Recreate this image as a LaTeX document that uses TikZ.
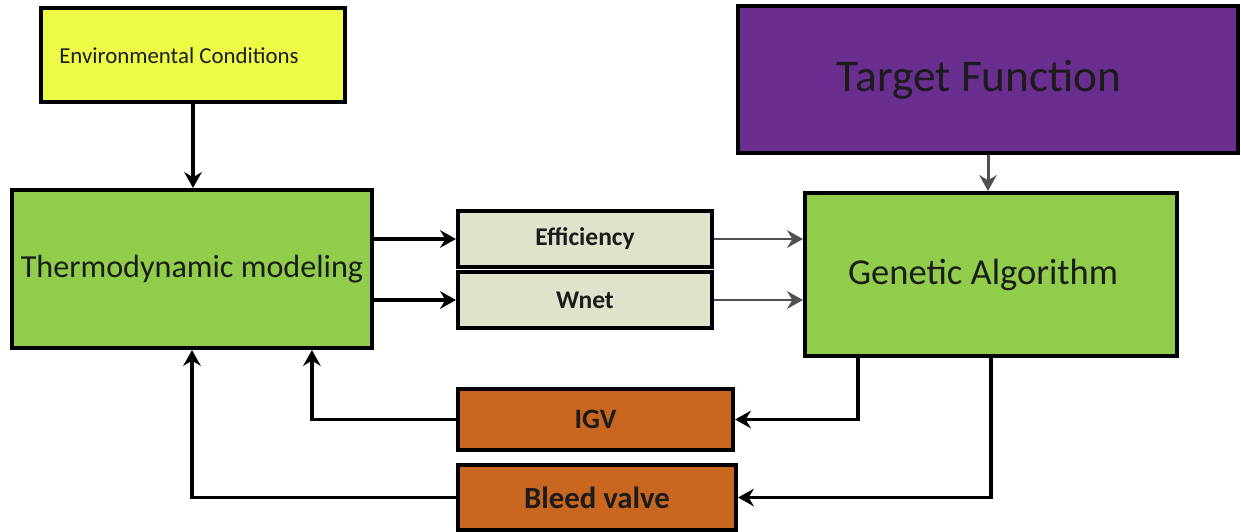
\documentclass[tikz,border=0pt]{standalone}
\usepackage{fontspec}
\setmainfont{Carlito}
\usetikzlibrary{arrows.meta,calc}
\definecolor{envy}{HTML}{EDFB47}
\definecolor{tpurp}{HTML}{6A2D90}
\definecolor{gboxg}{HTML}{8FCD4B}
\definecolor{lightb}{HTML}{DDE4CB}
\definecolor{orng}{HTML}{C96620}
\definecolor{txtd}{HTML}{1C1C1C}
\definecolor{garr}{HTML}{505050}
\tikzset{
  blk/.style={draw=black, line width=2.4pt, inner sep=0pt, text=txtd},
  blkarrow/.style={draw=black, line width=1.9pt, -{Stealth[length=9pt,width=10pt,inset=3pt]}},
  grayarrow/.style={draw=garr, line width=1.7pt, -{Stealth[length=9pt,width=10pt,inset=3pt]}},
}
\begin{document}
\begin{tikzpicture}[x=0.02cm,y=-0.02cm]
\useasboundingbox (0,0) rectangle (1241,531);
% boxes
\node[blk, fill=envy, minimum width=6.08cm, minimum height=1.88cm] (env) at (193,55) {};
\node[anchor=west, text=txtd, font=\fontsize{13}{15}\selectfont, inner sep=0pt] (envtxt) at (59,56) {Environmental Conditions};
\node[blk, fill=tpurp, minimum width=10cm, minimum height=2.94cm, font=\fontsize{25.8}{30}\selectfont] (target) at (988,79.5) {Target Function\hspace*{10pt}};
\node[blk, fill=gboxg, minimum width=7.2cm, minimum height=3.16cm, font=\fontsize{18.3}{22}\selectfont] (thermo) at (192,269) {Thermodynamic modeling};
\node[blk, fill=gboxg, minimum width=7.44cm, minimum height=3.26cm, font=\fontsize{20.8}{24}\selectfont] (gen) at (991,274.5) {Genetic Algorithm\hspace*{9pt}};
\node[blk, fill=lightb, minimum width=5.08cm, minimum height=1.12cm, font=\bfseries\fontsize{14.5}{17}\selectfont] (eff) at (585,239) {Efficiency};
\node[blk, fill=lightb, minimum width=5.08cm, minimum height=1.12cm, font=\bfseries\fontsize{14.5}{17}\selectfont] (wnet) at (585,300) {Wnet};
\node[blk, fill=orng, minimum width=5.5cm, minimum height=1.22cm, font=\bfseries\fontsize{16}{19}\selectfont] (igv) at (595.5,419.5) {IGV};
\node[blk, fill=orng, minimum width=5.56cm, minimum height=1.30cm, font=\bfseries\fontsize{17.5}{20}\selectfont] (bleed) at (597,497.5) {Bleed valve};
% connectors
\draw[blkarrow] (env.south) -- (env.south |- thermo.north);
\draw[grayarrow] (target.south) -- (target.south |- gen.north);
\draw[blkarrow] (thermo.east |- eff.west) -- (eff.west);
\draw[blkarrow] (thermo.east |- wnet.west) -- (wnet.west);
\draw[grayarrow] (eff.east) -- (eff.east -| gen.west);
\draw[grayarrow] (wnet.east) -- (wnet.east -| gen.west);
\coordinate (g1) at ($(gen.south west)+(55,0)$);
\coordinate (g2) at ($(gen.south west)+(188,0)$);
\draw[blkarrow] (g1) |- (igv.east);
\draw[blkarrow] (g2) |- (bleed.east);
\coordinate (t1) at ($(thermo.south west)+(302,0)$);
\draw[blkarrow] (igv.west) -| (t1);
\draw[blkarrow] (bleed.west) -| (thermo.south);
\end{tikzpicture}
\end{document}
